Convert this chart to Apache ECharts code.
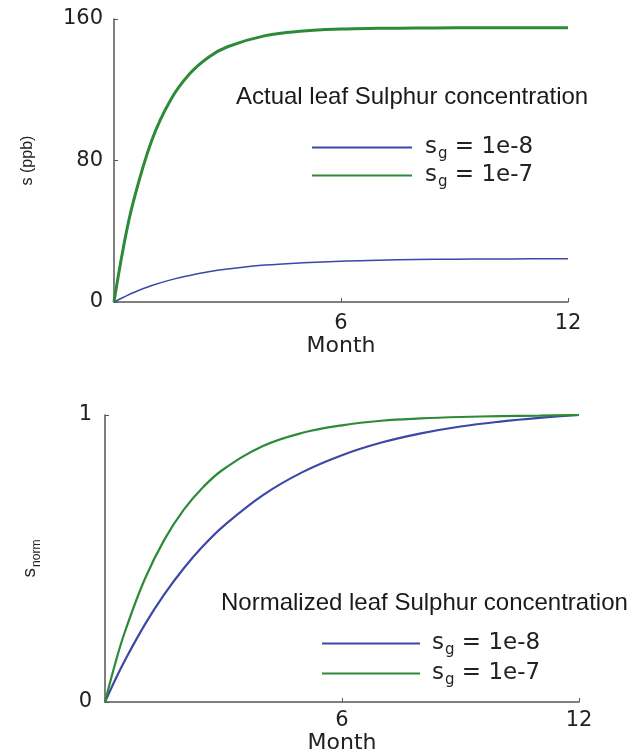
<!DOCTYPE html>
<html lang="en">
<head>
<meta charset="UTF-8">
<title>leaf sulphur</title>
<style>
  html, body { margin: 0; padding: 0; background: #fff; }
  #main { width: 637px; height: 749px; }
</style>
</head>
<body>
<div id="main"></div>
<script src="https://cdn.jsdelivr.net/npm/echarts@6/dist/echarts.min.js"></script>
<script>
// months sampled along the curves
var months = [0, 0.25, 0.5, 1, 1.5, 2, 2.5, 3, 4, 5, 6, 7, 8, 9, 10, 11, 12];

// top panel: actual leaf sulphur, ppb
var actualLow = [0, 2.7, 5.2, 9.3, 12.5, 15.0, 17.1, 18.6, 20.9, 22.2, 23.1, 23.6, 24.0, 24.2, 24.3, 24.4, 24.4];
var actualHigh = [0, 31.0, 55.8, 91.5, 114.4, 129.0, 138.4, 144.3, 150.6, 153.2, 154.3, 154.7, 154.9, 155, 155, 155, 155];

// bottom panel: normalized
var normLow = [0, 0.075, 0.144, 0.268, 0.375, 0.467, 0.546, 0.613, 0.721, 0.801, 0.860, 0.904, 0.936, 0.960, 0.977, 0.990, 1];
var normHigh = [0, 0.130, 0.243, 0.426, 0.565, 0.671, 0.751, 0.811, 0.892, 0.938, 0.964, 0.980, 0.988, 0.993, 0.996, 0.998, 1];

var topTicks = [0, 80, 160];
var bottomTicks = [0, 1];
var monthTicks = [0, 6, 12];

var nameLow = 'sg = 1e-8';
var nameHigh = 'sg = 1e-7';
var blue = '#3c48a6';
var green = '#2d8a36';

function pairs(ys) {
  return months.map(function (m, i) { return [m, ys[i]]; });
}

var labelFont = { fontFamily: 'DejaVu Sans', fontSize: 21, color: '#222' };
var subRich = {
  s: { fontFamily: 'DejaVu Sans', fontSize: 23, color: '#222' },
  g: { fontFamily: 'DejaVu Sans', fontSize: 15, color: '#222', padding: [14, 0, 0, 1] }
};

function xAx(gi, margin, gap) {
  return {
    gridIndex: gi, type: 'value', min: monthTicks[0], max: monthTicks[2], interval: monthTicks[1] - monthTicks[0],
    name: 'Month', nameLocation: 'middle', nameGap: gap,
    nameTextStyle: { fontFamily: 'DejaVu Sans', fontSize: 22, color: '#222' },
    axisLine: { lineStyle: { color: '#555', width: 1.5 } },
    axisTick: { inside: true, length: 4, lineStyle: { color: '#555' } },
    axisLabel: Object.assign({ margin: margin, showMinLabel: false }, labelFont),
    splitLine: { show: false }
  };
}

function legendFmt(name) {
  return name === nameLow ? '{s|s}{g|g}{s| = 1e-8}' : '{s|s}{g|g}{s| = 1e-7}';
}

var chart = echarts.init(document.getElementById('main'));
chart.setOption({
  animation: false,
  title: [
    { text: 'Actual leaf Sulphur concentration', left: 236, top: 85, padding: 0,
      textStyle: { fontFamily: 'Liberation Sans', fontSize: 24, fontWeight: 'normal', color: '#1a1a1a' } },
    { text: 'Normalized leaf Sulphur concentration', left: 221, top: 591, padding: 0,
      textStyle: { fontFamily: 'Liberation Sans', fontSize: 24, fontWeight: 'normal', color: '#1a1a1a' } }
  ],
  legend: [
    { data: [nameLow, nameHigh], orient: 'vertical', left: 312, top: 136, padding: 0, itemWidth: 100, itemHeight: 2,
      itemGap: 2, icon: 'rect', formatter: legendFmt, textStyle: { padding: [0, 0, 0, 8], rich: subRich } },
    { data: [nameLow, nameHigh], orient: 'vertical', left: 322, top: 632, padding: 0, itemWidth: 98, itemHeight: 2,
      itemGap: 4, icon: 'rect', formatter: legendFmt, textStyle: { padding: [0, 0, 0, 7], rich: subRich } }
  ],
  grid: [
    { left: 114, top: 19, width: 454, height: 283, outerBoundsMode: 'none' },
    { left: 105, top: 415, width: 474, height: 287, outerBoundsMode: 'none' }
  ],
  xAxis: [xAx(0, 11, 25), xAx(1, 8, 23)],
  yAxis: [
    {
      gridIndex: 0, type: 'value', min: topTicks[0], max: topTicks[2], interval: topTicks[1],
      name: 's (ppb)', nameLocation: 'middle', nameGap: 78,
      nameTextStyle: { fontFamily: 'Liberation Sans', fontSize: 16, color: '#222' },
      axisLine: { show: true, lineStyle: { color: '#555', width: 1.5 } },
      axisTick: { show: true, inside: true, length: 4, lineStyle: { color: '#555' } },
      axisLabel: Object.assign({ margin: 11 }, labelFont),
      splitLine: { show: false }
    },
    {
      gridIndex: 1, type: 'value', min: bottomTicks[0], max: bottomTicks[1], interval: 1,
      name: '{s|s}{n|norm}', nameLocation: 'middle', nameGap: 62,
      nameTextStyle: { rich: {
        s: { fontFamily: 'Liberation Sans', fontSize: 19, color: '#222' },
        n: { fontFamily: 'Liberation Sans', fontSize: 12, color: '#222', padding: [14, 0, 0, 1] }
      } },
      axisLine: { show: true, lineStyle: { color: '#555', width: 1.5 } },
      axisTick: { show: true, inside: true, length: 4, lineStyle: { color: '#555' } },
      axisLabel: Object.assign({ margin: 13 }, labelFont),
      splitLine: { show: false }
    }
  ],
  series: [
    { name: nameLow, type: 'line', xAxisIndex: 0, yAxisIndex: 0, data: pairs(actualLow),
      smooth: 0.4, showSymbol: false, color: blue, lineStyle: { width: 1.5, color: blue } },
    { name: nameHigh, type: 'line', xAxisIndex: 0, yAxisIndex: 0, data: pairs(actualHigh),
      smooth: 0.4, showSymbol: false, color: green, lineStyle: { width: 3, color: green } },
    { name: nameLow, type: 'line', xAxisIndex: 1, yAxisIndex: 1, data: pairs(normLow),
      smooth: 0.4, showSymbol: false, color: blue, lineStyle: { width: 2.2, color: blue } },
    { name: nameHigh, type: 'line', xAxisIndex: 1, yAxisIndex: 1, data: pairs(normHigh),
      smooth: 0.4, showSymbol: false, color: green, lineStyle: { width: 2.2, color: green } }
  ]
});
</script>
</body>
</html>
